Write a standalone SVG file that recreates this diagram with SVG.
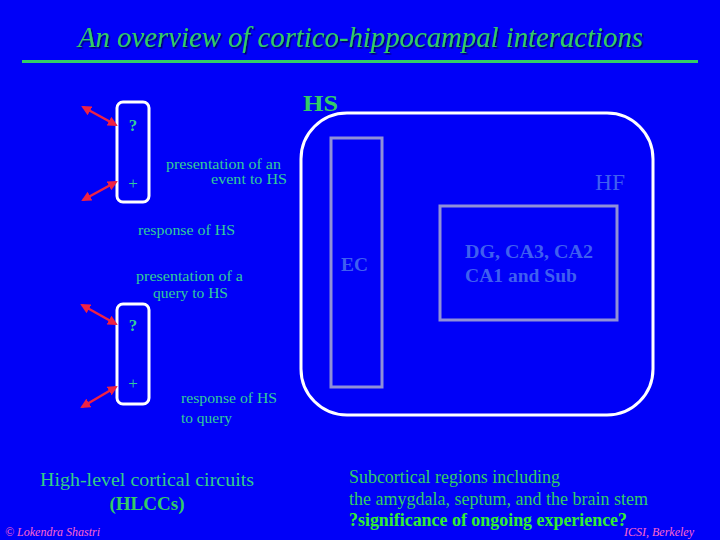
<svg xmlns="http://www.w3.org/2000/svg" width="720" height="540" viewBox="0 0 720 540">
<defs>
<marker id="ah" viewBox="0 0 10 10" refX="8" refY="5" markerWidth="4" markerHeight="4" orient="auto-start-reverse">
<path d="M0,0 L10,5 L0,10 z" fill="#ee2244"/>
</marker>
<filter id="sh" x="-5%" y="-20%" width="110%" height="140%"><feDropShadow dx="1.5" dy="1.5" stdDeviation="0.5" flood-color="#000060" flood-opacity="0.9"/></filter>
</defs>
<style>
.lbl{font-family:"Liberation Serif",serif;font-size:14px;fill:#33cc99}
.mark{font-family:"Liberation Serif",serif;fill:#33cc99}
.dim{font-family:"Liberation Serif",serif;fill:#3f5ff0}
.grn{font-family:"Liberation Serif",serif;fill:#33cc66}
.box{fill:none;stroke:#ffffff;stroke-width:3}
.inner{fill:none;stroke:#9090d8;stroke-width:3}
.arr{stroke:#ee2244;stroke-width:2.5;marker-start:url(#ah);marker-end:url(#ah)}
.foot{font-family:"Liberation Serif",serif;font-style:italic;font-size:12px;fill:#ff66cc}
</style>
<rect width="720" height="540" fill="#0000f8"/>
<g id="title">
<text x="78" y="47" class="grn" font-size="29" font-style="italic" textLength="565" lengthAdjust="spacingAndGlyphs" filter="url(#sh)">An overview of cortico-hippocampal interactions</text>
<rect x="22" y="60" width="676" height="3" fill="#33cc66"/>
</g>
<g id="hs">
<rect x="301" y="113" width="352" height="302" rx="46" class="box"/>
<text x="303" y="111" class="grn" font-size="23" font-weight="bold" textLength="35" lengthAdjust="spacingAndGlyphs">HS</text>
<text x="595" y="190" class="dim" font-size="23" textLength="30" lengthAdjust="spacingAndGlyphs">HF</text>
</g>
<g id="ec">
<rect x="331" y="138" width="51" height="249" class="inner"/>
<text x="341" y="271" class="dim" font-size="18" font-weight="bold" textLength="27" lengthAdjust="spacingAndGlyphs">EC</text>
</g>
<g id="dg">
<rect x="440" y="206" width="177" height="114" class="inner"/>
<text x="465" y="258" class="dim" font-size="18" font-weight="bold" textLength="128" lengthAdjust="spacingAndGlyphs">DG, CA3, CA2</text>
<text x="465" y="282" class="dim" font-size="18" font-weight="bold" textLength="112" lengthAdjust="spacingAndGlyphs">CA1 and Sub</text>
</g>
<g id="hlcc1">
<rect x="117" y="102" width="32" height="100" rx="6" class="box"/>
<text x="133" y="131" text-anchor="middle" class="mark" font-size="17" font-weight="bold">?</text>
<text x="133" y="189" text-anchor="middle" class="mark" font-size="17">+</text>
</g>
<g id="hlcc2">
<rect x="117" y="304" width="32" height="100" rx="6" class="box"/>
<text x="133" y="331" text-anchor="middle" class="mark" font-size="17" font-weight="bold">?</text>
<text x="133" y="389" text-anchor="middle" class="mark" font-size="17">+</text>
</g>
<g id="connectors">
<line x1="83" y1="107" x2="116" y2="125" class="arr"/>
<line x1="83" y1="200" x2="116" y2="182" class="arr"/>
<line x1="82" y1="305" x2="116" y2="324" class="arr"/>
<line x1="82" y1="407" x2="116" y2="387" class="arr"/>
</g>
<g id="labels">
<text x="166" y="169" class="lbl" textLength="115" lengthAdjust="spacingAndGlyphs">presentation of an</text>
<text x="211" y="184" class="lbl" textLength="76" lengthAdjust="spacingAndGlyphs">event to HS</text>
<text x="138" y="235" class="lbl" textLength="97" lengthAdjust="spacingAndGlyphs">response of HS</text>
<text x="136" y="281" class="lbl" textLength="107" lengthAdjust="spacingAndGlyphs">presentation of a</text>
<text x="153" y="298" class="lbl" textLength="75" lengthAdjust="spacingAndGlyphs">query to HS</text>
<text x="181" y="403" class="lbl" textLength="96" lengthAdjust="spacingAndGlyphs">response of HS</text>
<text x="181" y="423" class="lbl" textLength="51" lengthAdjust="spacingAndGlyphs">to query</text>
</g>
<g id="bottom">
<text x="40" y="486" class="grn" font-size="19" textLength="214" lengthAdjust="spacingAndGlyphs" style="fill:#33cc88">High-level cortical circuits</text>
<text x="147" y="510" text-anchor="middle" class="grn" font-size="19" font-weight="bold">(HLCCs)</text>
<text x="349" y="483" class="grn" font-size="18" textLength="211" lengthAdjust="spacingAndGlyphs">Subcortical regions including</text>
<text x="349" y="505" class="grn" font-size="18" textLength="299" lengthAdjust="spacingAndGlyphs">the amygdala, septum, and the brain stem</text>
<text x="349" y="526" class="grn" font-size="18" font-weight="bold" textLength="278" lengthAdjust="spacingAndGlyphs" style="fill:#33ee33">?significance of ongoing experience?</text>
<text x="5" y="536" class="foot">© Lokendra Shastri</text>
<text x="694" y="536" text-anchor="end" class="foot">ICSI, Berkeley</text>
</g>
</svg>
